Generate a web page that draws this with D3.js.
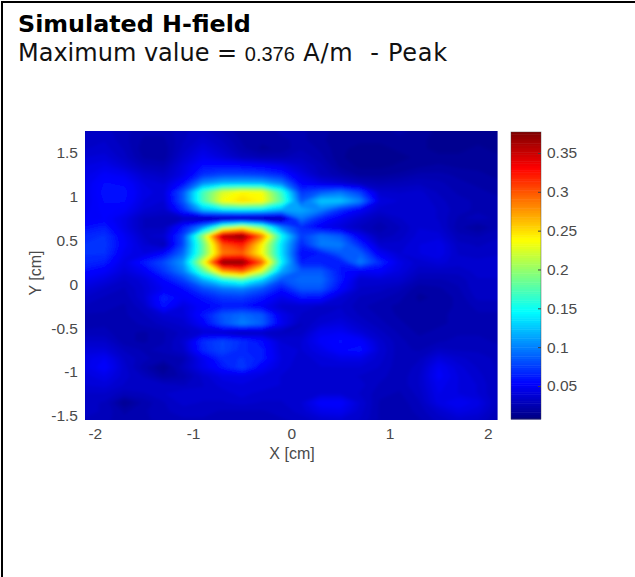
<!DOCTYPE html>
<html><head><meta charset="utf-8">
<script src="https://cdn.jsdelivr.net/npm/d3@7"></script>
<style>html,body{margin:0;padding:0;background:#fff}svg{display:block}
text{font-family:"Liberation Sans",Arial,sans-serif}</style></head>
<body><svg id="c" width="635" height="577"></svg>
<script>
// Field magnitude in mA/m, one row per Y value, one column per X value
const xCenters=[-2.1,-1.9,-1.7,-1.5,-1.3,-1.1,-0.9,-0.7,-0.5,-0.3,-0.1,0.1,0.3,0.5,0.7,0.9,1.1,1.3,1.5,1.7,1.9,2.1];
const yCenters=[1.75,1.65,1.55,1.45,1.35,1.25,1.15,1.05,0.95,0.85,0.75,0.65,0.55,0.45,0.35,0.25,0.15,0.05,-0.05,-0.15,-0.25,-0.35,-0.45,-0.55,-0.65,-0.75,-0.85,-0.95,-1.05,-1.15,-1.25,-1.35,-1.45,-1.55];
const field=[
[30,32,28,24,24,30,32,26,20,20,24,24,20,18,18,18,20,18,14,14,14,14],
[32,34,28,22,22,30,36,30,22,20,22,24,20,16,16,16,18,16,14,14,14,14],
[34,36,30,20,20,32,42,34,24,18,20,26,22,16,14,14,16,16,14,14,16,14],
[38,40,32,22,20,36,48,40,30,26,26,30,24,16,12,12,14,16,16,16,16,16],
[42,46,38,28,26,42,58,58,56,52,46,36,28,18,14,14,16,18,20,18,18,18],
[44,52,48,36,32,44,70,78,78,75,66,44,30,24,18,18,20,24,24,22,20,18],
[46,58,56,42,38,58,105,120,122,120,100,54,44,38,30,26,28,30,28,24,22,20],
[46,60,60,44,40,85,170,225,240,235,165,72,85,95,75,36,34,36,30,26,24,22],
[46,58,58,42,38,85,170,235,250,240,175,85,125,125,100,42,38,38,32,28,26,24],
[48,56,52,38,34,68,120,135,140,135,115,115,100,70,50,36,38,38,34,28,26,26],
[50,54,44,30,28,30,22,16,16,14,20,95,65,48,36,28,34,38,34,26,28,26],
[58,62,44,30,30,62,105,190,225,185,100,68,50,40,30,24,30,38,36,24,18,26],
[66,70,50,34,36,78,200,355,372,285,150,75,95,85,48,28,32,40,40,28,26,30],
[70,72,52,38,28,80,180,300,320,240,135,65,98,98,68,36,36,42,46,32,30,32],
[70,70,48,42,55,92,180,285,295,235,135,55,62,85,88,50,38,42,46,34,32,34],
[66,62,44,62,80,110,225,372,372,295,145,62,62,62,98,68,44,36,40,36,36,36],
[58,52,40,50,72,100,175,270,295,225,115,85,85,60,50,52,42,32,32,32,36,36],
[48,42,34,40,56,76,115,150,170,130,82,92,92,62,36,38,36,26,26,28,34,34],
[40,34,30,38,50,58,80,95,100,84,60,84,84,55,34,32,28,20,22,26,34,34],
[34,30,28,38,64,52,60,72,74,62,46,60,58,38,30,28,24,18,20,24,32,32],
[30,28,26,34,60,42,54,60,60,50,36,36,34,34,28,24,22,20,20,24,28,28],
[26,26,26,30,38,40,60,84,92,84,46,34,34,36,30,26,22,20,22,24,26,26],
[24,26,24,28,32,36,52,82,100,88,48,30,38,42,34,28,24,20,22,24,26,26],
[28,28,24,22,26,32,38,34,28,32,30,32,48,50,40,32,26,22,24,26,26,26],
[34,34,24,22,26,36,68,78,68,58,38,38,52,58,54,36,28,24,26,28,28,26],
[40,40,30,26,28,34,66,78,66,62,40,38,46,56,60,38,28,26,32,30,30,28],
[44,50,34,28,24,26,48,66,70,62,42,36,40,44,44,36,28,30,42,36,32,30],
[44,54,36,24,14,30,46,60,74,52,40,36,38,38,38,34,28,32,50,40,34,30],
[40,46,36,30,20,24,36,44,44,42,38,36,36,36,34,32,28,34,52,42,36,30],
[38,40,34,34,32,30,34,40,42,42,38,36,36,38,36,30,28,34,48,42,38,30],
[34,34,28,30,34,38,36,36,40,36,36,36,38,38,34,28,26,32,46,42,38,30],
[32,30,14,24,30,36,34,34,36,34,34,38,54,54,38,26,24,30,44,50,44,30],
[32,30,22,26,30,32,32,30,30,30,32,36,46,48,36,26,24,28,36,44,40,28],
[30,28,24,26,28,30,30,28,28,28,30,32,36,38,34,26,24,26,32,36,34,26]];
const xTicks=[-2,-1,0,1,2];
const yTicks=[-1.5,-1,-0.5,0,0.5,1,1.5];
const cbTicks=[0.05,0.1,0.15,0.2,0.25,0.3,0.35];
const cMin=0.0075,cMax=0.377;
const jetStops=["#000080","#0000ff","#00ffff","#ffff00","#ff0000","#800000"];
const jetAt=[0,0.125,0.375,0.625,0.875,1];

const svg=d3.select("#c");
const x=d3.scaleLinear().domain([-2.1,2.1]).range([85,497.6]);
const y=d3.scaleLinear().domain([-1.55,1.75]).range([420,131]);
const cbY=d3.scaleLinear().domain([cMin,cMax]).range([419,132]);
const color=d3.scaleLinear().domain(jetAt.map(t=>cMin+t*(cMax-cMin))).range(jetStops).clamp(true);

// Frame
svg.append("rect").attr("x",1).attr("y",1).attr("width",634).attr("height",2).attr("fill","#000");
svg.append("rect").attr("x",1).attr("y",1).attr("width",2).attr("height",576).attr("fill","#000");

// Header
svg.append("text").attr("x",18).attr("y",32).attr("fill","#000")
 .style("font-family","'DejaVu Sans',Verdana,sans-serif").style("font-weight","bold").style("font-size","23.8px").text("Simulated H-field");
const sub=svg.append("text").attr("x",18).attr("y",61).attr("fill","#111")
 .style("font-family","'DejaVu Sans',Verdana,sans-serif").style("font-size","24px");
sub.append("tspan").text("Maximum value = ");
sub.append("tspan").style("font-family","'Liberation Sans',Arial,sans-serif").style("font-size","20px").text("0.376");
sub.append("tspan").style("letter-spacing","0.75px").text(" A/m\u00a0 - Peak");

// Field map
const defs=svg.append("defs");
defs.append("clipPath").attr("id","pc").append("rect").attr("x",x(-2.1)).attr("y",y(1.75)).attr("width",x(2.1)-x(-2.1)).attr("height",y(-1.55)-y(1.75));
const blur=defs.append("filter").attr("id","bl").attr("x","-5%").attr("y","-5%").attr("width","110%").attr("height","110%");
blur.append("feGaussianBlur").attr("stdDeviation",1.5);
const nx=xCenters.length,ny=yCenters.length;
const flat=field.flat().map(v=>v/1000);
const thresholds=d3.range(0,96).map(i=>cMin+(i/96)*(cMax-cMin));
const contours=d3.contours().size([nx,ny]).smooth(true).thresholds(thresholds)(flat);
// d3.contours treats value i as centred on i+0.5
const gx=d3.scaleLinear().domain([0.5,nx-0.5]).range([x(xCenters[0]),x(xCenters[nx-1])]);
const gy=d3.scaleLinear().domain([0.5,ny-0.5]).range([y(yCenters[0]),y(yCenters[ny-1])]);
const path=d3.geoPath(d3.geoTransform({point(a,b){this.stream.point(gx(a),gy(b));}}));
const pg=svg.append("g").attr("clip-path","url(#pc)").append("g").attr("filter","url(#bl)");
pg.append("rect").attr("x",x(-2.1)-10).attr("y",y(1.75)-10).attr("width",x(2.1)-x(-2.1)+20).attr("height",y(-1.55)-y(1.75)+20).attr("fill",color(0.03));
pg.selectAll("path").data(contours).join("path").attr("d",path)
  .attr("fill",d=>color(d.value+(cMax-cMin)/192)).attr("stroke",d=>color(d.value+(cMax-cMin)/192)).attr("stroke-width",0.4);

// Axes
const ax=svg.append("g").attr("transform",`translate(0,${y(-1.55)})`)
 .call(d3.axisBottom(x).tickValues(xTicks).tickSize(0).tickPadding(8).tickFormat(d=>String(d)));
const ay=svg.append("g").attr("transform",`translate(${x(-2.1)},0)`)
 .call(d3.axisLeft(y).tickValues(yTicks).tickSize(0).tickPadding(7).tickFormat(d=>String(d)));
[ax,ay].forEach(a=>{a.select(".domain").remove();a.selectAll("text").attr("fill","#4a4a4a").style("font-size","15.5px");});
svg.append("text").attr("x",292).attr("y",459).attr("text-anchor","middle").attr("fill","#4a4a4a").style("font-size","16px").text("X [cm]");
svg.append("text").attr("transform","translate(41,273) rotate(-90)").attr("text-anchor","middle").attr("fill","#4a4a4a").style("font-size","16px").text("Y [cm]");

// Colour bar
const cbX0=511,cbX1=541;
const cbVals=d3.range(0,128).map(i=>cMin+(i/128)*(cMax-cMin));
const step=(cMax-cMin)/128;
svg.append("g").selectAll("rect").data(cbVals).join("rect")
 .attr("x",cbX0).attr("width",cbX1-cbX0).attr("y",d=>cbY(d+step)).attr("height",d=>cbY(d)-cbY(d+step)+0.5).attr("fill",d=>color(d+step/2));
svg.append("rect").attr("x",cbX0).attr("y",cbY(cMax)).attr("width",cbX1-cbX0).attr("height",cbY(cMin)-cbY(cMax)).attr("fill","none").attr("stroke","#404040").attr("stroke-opacity",0.6).attr("stroke-width",0.7);
const ac=svg.append("g").attr("transform",`translate(${cbX1},0)`)
 .call(d3.axisRight(cbY).tickValues(cbTicks).tickSize(-3).tickPadding(6).tickFormat(d=>String(d)));
ac.select(".domain").remove();
ac.selectAll("line").attr("stroke","#404040");
ac.selectAll("text").attr("fill","#4a4a4a").style("font-size","15.5px");
</script></body></html>
